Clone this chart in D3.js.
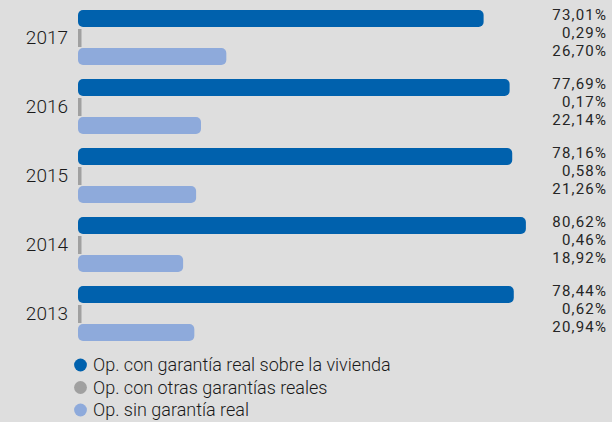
<!DOCTYPE html>
<html>
<head>
<meta charset="utf-8">
<script src="https://cdn.jsdelivr.net/npm/d3@7"></script>
<style>
  html, body { margin: 0; padding: 0; background: #dedede; }
  svg { display: block; }
  text { font-family: Roboto, "Liberation Sans", Arial, sans-serif; font-weight: 300; fill: #1a1a1a; }
  text.value { font-weight: 400; fill: #262626; }
</style>
</head>
<body>
<svg id="chart" width="612" height="422"></svg>
<script>
// Years shown, top to bottom
const years = ["2017", "2016", "2015", "2014", "2013"];
// Share of each type of operation (%)
const viviendaValues = [73.01, 77.69, 78.16, 80.62, 78.44];
const otrasValues    = [0.29, 0.17, 0.58, 0.46, 0.62];
const sinValues      = [26.70, 22.14, 21.26, 18.92, 20.94];
const seriesNames = [
  "Op. con garantía real sobre la vivienda",
  "Op. con otras garantías reales",
  "Op. sin garantía real"
];
const seriesColors = ["#0061ad", "#a0a0a0", "#8eaadb"];

const seriesValues = [viviendaValues, otrasValues, sinValues];
const fmt = v => d3.format(".2f")(v).replace(".", ",") + "%";

const svg = d3.select("#chart");

const x = d3.scaleLinear().domain([0, 81]).range([78, 528]);
const yYear = d3.scaleBand().domain(years).range([10, 10 + 69 * years.length]);
const ySeries = d3.scaleBand().domain(d3.range(3)).range([0, 55]).paddingInner(0.105);

const groups = svg.selectAll("g.year")
  .data(years)
  .join("g")
  .attr("class", "year")
  .attr("transform", d => `translate(0,${yYear(d)})`);

groups.each(function(year, i) {
  const g = d3.select(this);
  seriesValues.forEach((vals, s) => {
    const v = vals[i];
    // the thin grey bar keeps a minimum visible width
    const w = Math.max(x(v) - x(0), 3.5);
    const isThin = s === 1;
    g.append("rect")
      .attr("x", x(0))
      .attr("y", ySeries(s))
      .attr("width", w)
      .attr("height", isThin ? ySeries.bandwidth() + 1 : ySeries.bandwidth())
      .attr("rx", isThin ? 0 : 5)
      .attr("fill", seriesColors[s]);
    // value labels, stacked at the right edge
    g.append("text")
      .attr("class", "value")
      .attr("x", 607.2)
      .attr("y", 9.5 + s * 18)
      .attr("text-anchor", "end")
      .attr("font-size", 15)
      .attr("letter-spacing", 1.2)
      .text(fmt(v));
  });
  // year label
  g.append("text")
    .attr("x", 68)
    .attr("y", 34)
    .attr("text-anchor", "end")
    .attr("font-size", 19)
    .text(year);
});

// Legend
const legend = svg.append("g").attr("transform", "translate(80.5,365)");
const li = legend.selectAll("g")
  .data(seriesNames)
  .join("g")
  .attr("transform", (d, i) => `translate(0,${i * 22.5})`);
li.append("circle").attr("r", 6.4).attr("fill", (d, i) => seriesColors[i]);
li.append("text")
  .attr("x", 12.5)
  .attr("y", 6)
  .attr("font-size", 18)
  .text(d => d);
</script>
</body>
</html>
